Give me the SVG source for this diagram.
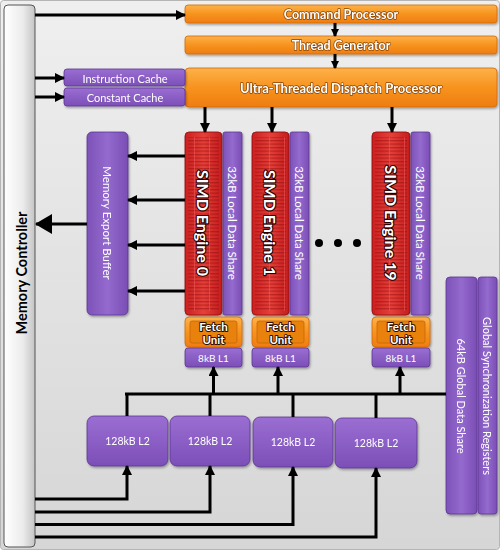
<svg xmlns="http://www.w3.org/2000/svg" width="500" height="550" viewBox="0 0 500 550">
<defs>
<linearGradient id="bg" x1="0" y1="0" x2="0" y2="1"><stop offset="0" stop-color="#efefef"/><stop offset="1" stop-color="#d6d6d6"/></linearGradient>
<linearGradient id="mc" x1="0" y1="0" x2="1" y2="0"><stop offset="0" stop-color="#ffffff"/><stop offset="0.6" stop-color="#ececec"/><stop offset="1" stop-color="#c4c4c4"/></linearGradient>
<linearGradient id="or" x1="0" y1="0" x2="0" y2="1"><stop offset="0" stop-color="#fdb24a"/><stop offset="0.5" stop-color="#f7931e"/><stop offset="1" stop-color="#ef7d10"/></linearGradient>
<linearGradient id="pu" x1="0" y1="0" x2="0" y2="1"><stop offset="0" stop-color="#9a6ed2"/><stop offset="1" stop-color="#7c4fb8"/></linearGradient>
<linearGradient id="puh" x1="0" y1="0" x2="1" y2="0"><stop offset="0" stop-color="#7d52b8"/><stop offset="0.5" stop-color="#946ace"/><stop offset="1" stop-color="#7a4db4"/></linearGradient>
<linearGradient id="rd" x1="0" y1="0" x2="1" y2="0"><stop offset="0" stop-color="#cc2020"/><stop offset="0.5" stop-color="#e6403a"/><stop offset="1" stop-color="#c41c1c"/></linearGradient>
<pattern id="stripe" patternUnits="userSpaceOnUse" width="15" height="3.5"><rect x="0" y="0" width="15" height="1.3" fill="#8a0c0c" opacity="0.45"/><rect x="14" y="0" width="1" height="3.5" fill="#f06060" opacity="0.5"/></pattern>
<filter id="sh" x="-10%" y="-10%" width="130%" height="130%"><feDropShadow dx="1" dy="1.5" stdDeviation="1" flood-color="#000" flood-opacity="0.35"/></filter>
<marker id="ah" markerUnits="userSpaceOnUse" markerWidth="12" markerHeight="12" refX="9" refY="5" orient="auto"><path d="M0,0 L10,5 L0,10 Z" fill="#000"/></marker>
<marker id="ahs" markerUnits="userSpaceOnUse" markerWidth="10" markerHeight="10" refX="7" refY="4" orient="auto"><path d="M0,0 L8,4 L0,8 Z" fill="#000"/></marker>
<marker id="big" markerUnits="userSpaceOnUse" markerWidth="20" markerHeight="22" refX="16" refY="10" orient="auto"><path d="M0,0 L17,10 L0,20 Z" fill="#000"/></marker>
</defs>
<style>
.t{font-family:Lato,"Open Sans","Liberation Sans",sans-serif;fill:#fff;text-anchor:middle;dominant-baseline:central}
.b{font-weight:bold}
.o{stroke:#2a0000;stroke-width:2.2;paint-order:stroke;stroke-linejoin:round}
.ob{stroke:#8a4200;stroke-width:1.4;paint-order:stroke;stroke-linejoin:round}
.of{stroke:#301000;stroke-width:2;paint-order:stroke;stroke-linejoin:round}
.or{fill:url(#or);stroke:#d06a10;stroke-width:0.8}
.pu{fill:url(#pu);stroke:#5c3590;stroke-width:0.8}
.puv{fill:url(#puh);stroke:#5c3590;stroke-width:0.8}
.rd{fill:url(#rd);stroke:#8c1010;stroke-width:0.8}
.ln{fill:none;stroke:#000;stroke-width:3}
</style>
<rect x="0.5" y="0.5" width="499" height="549" rx="3" fill="url(#bg)" stroke="#b5b5b5"/>

<g id="memory-controller">
<rect x="4" y="5" width="31" height="542" rx="4" fill="url(#mc)" stroke="#555" stroke-width="1"/>
<text class="t b" x="0" y="0" transform="translate(21,273) rotate(-90)" font-size="14.5" style="fill:#000">Memory Controller</text>
</g>
<g id="command-processor" filter="url(#sh)">
<rect class="or" x="185" y="5" width="312" height="18" rx="3"/>
<text class="t b ob" x="341" y="14.5" font-size="12.5">Command Processor</text>
</g>
<g id="thread-generator" filter="url(#sh)">
<rect class="or" x="185" y="36" width="312" height="18" rx="3"/>
<text class="t b ob" x="341" y="45.5" font-size="12.5">Thread Generator</text>
</g>
<g id="dispatch-processor" filter="url(#sh)">
<rect class="or" x="185" y="68" width="312" height="39" rx="4"/>
<text class="t b ob" x="341" y="88" font-size="13">Ultra-Threaded Dispatch Processor</text>
</g>
<g id="instruction-cache" filter="url(#sh)">
<rect class="pu" x="64" y="69" width="121" height="17" rx="3"/>
<text class="t" x="125" y="78" font-size="11">Instruction Cache</text>
</g>
<g id="constant-cache" filter="url(#sh)">
<rect class="pu" x="64" y="88" width="121" height="18" rx="3"/>
<text class="t" x="125" y="97.5" font-size="11">Constant Cache</text>
</g>
<g id="memory-export-buffer" filter="url(#sh)">
<rect class="puv" x="87" y="132" width="41" height="183" rx="5"/>
<text class="t" x="0" y="0" transform="translate(107,223) rotate(90)" font-size="11.5">Memory Export Buffer</text>
</g>

<g id="simd0">
<g filter="url(#sh)">
<rect class="rd" x="185" y="132" width="37" height="183" rx="4"/>
<rect x="188" y="137" width="31" height="174" fill="url(#stripe)"/>
<rect class="puv" x="223" y="132" width="19" height="183" rx="2"/>
</g>
<text class="t b o" x="0" y="0" transform="translate(203.5,223) rotate(90)" font-size="16">SIMD Engine 0</text>
<text class="t" x="0" y="0" transform="translate(232.5,223) rotate(90)" font-size="11.5">32kB Local Data Share</text>
<g filter="url(#sh)">
<rect class="or" x="185" y="317" width="57" height="30" rx="4"/>
<rect x="190" y="321" width="47" height="22" rx="2" fill="#e8820f" stroke="#c8650a" stroke-width="0.8"/>
<rect class="pu" x="185" y="348" width="57" height="19" rx="3"/>
</g>
<text class="t b of" x="213.5" y="326" font-size="11.5">Fetch</text>
<text class="t b of" x="213.5" y="339" font-size="11.5">Unit</text>
<text class="t" x="213.5" y="357.5" font-size="10">8kB L1</text>
</g>

<g id="simd1">
<g filter="url(#sh)">
<rect class="rd" x="252" y="132" width="37" height="183" rx="4"/>
<rect x="255" y="137" width="31" height="174" fill="url(#stripe)"/>
<rect class="puv" x="290" y="132" width="19" height="183" rx="2"/>
</g>
<text class="t b o" x="0" y="0" transform="translate(270.5,223) rotate(90)" font-size="16">SIMD Engine 1</text>
<text class="t" x="0" y="0" transform="translate(299.5,223) rotate(90)" font-size="11.5">32kB Local Data Share</text>
<g filter="url(#sh)">
<rect class="or" x="252" y="317" width="57" height="30" rx="4"/>
<rect x="257" y="321" width="47" height="22" rx="2" fill="#e8820f" stroke="#c8650a" stroke-width="0.8"/>
<rect class="pu" x="252" y="348" width="57" height="19" rx="3"/>
</g>
<text class="t b of" x="280.5" y="326" font-size="11.5">Fetch</text>
<text class="t b of" x="280.5" y="339" font-size="11.5">Unit</text>
<text class="t" x="280.5" y="357.5" font-size="10">8kB L1</text>
</g>

<g id="ellipsis">
<circle cx="319" cy="243" r="4" fill="#000"/>
<circle cx="338" cy="243" r="4" fill="#000"/>
<circle cx="357" cy="243" r="4" fill="#000"/>
</g>

<g id="simd19">
<g filter="url(#sh)">
<rect class="rd" x="372" y="132" width="38" height="183" rx="4"/>
<rect x="375" y="137" width="32" height="174" fill="url(#stripe)"/>
<rect class="puv" x="411" y="132" width="19" height="183" rx="2"/>
</g>
<text class="t b o" x="0" y="0" transform="translate(391,223) rotate(90)" font-size="16">SIMD Engine 19</text>
<text class="t" x="0" y="0" transform="translate(420.5,223) rotate(90)" font-size="11.5">32kB Local Data Share</text>
<g filter="url(#sh)">
<rect class="or" x="372" y="317" width="58" height="30" rx="4"/>
<rect x="377" y="321" width="48" height="22" rx="2" fill="#e8820f" stroke="#c8650a" stroke-width="0.8"/>
<rect class="pu" x="372" y="348" width="58" height="19" rx="3"/>
</g>
<text class="t b of" x="401" y="326" font-size="11.5">Fetch</text>
<text class="t b of" x="401" y="339" font-size="11.5">Unit</text>
<text class="t" x="401" y="357.5" font-size="10">8kB L1</text>
</g>

<g id="global-data-share" filter="url(#sh)">
<rect class="puv" x="446" y="277" width="31" height="237" rx="4"/>
<text class="t" x="0" y="0" transform="translate(461.5,396) rotate(90)" font-size="11">64kB Global Data Share</text>
</g>
<g id="global-sync-registers" filter="url(#sh)">
<rect class="puv" x="478" y="277" width="19" height="237" rx="3"/>
<text class="t" x="0" y="0" transform="translate(487.5,396) rotate(90)" font-size="11">Global Synchronization Registers</text>
</g>

<g id="l2-1" filter="url(#sh)"><rect class="pu" x="87" y="416" width="81" height="50" rx="7"/><text class="t" x="127.5" y="441" font-size="10.5">128kB L2</text></g>
<g id="l2-2" filter="url(#sh)"><rect class="pu" x="170" y="416" width="80" height="50" rx="7"/><text class="t" x="210" y="441" font-size="10.5">128kB L2</text></g>
<g id="l2-3" filter="url(#sh)"><rect class="pu" x="253" y="417" width="80" height="50" rx="7"/><text class="t" x="293" y="442" font-size="10.5">128kB L2</text></g>
<g id="l2-4" filter="url(#sh)"><rect class="pu" x="335" y="418" width="82" height="50" rx="7"/><text class="t" x="376" y="443" font-size="10.5">128kB L2</text></g>

<g id="connectors">
<line class="ln" x1="35" y1="15" x2="185" y2="15" marker-end="url(#ah)"/>
<line class="ln" x1="335" y1="23" x2="335" y2="36" stroke-width="2" marker-end="url(#ahs)"/>
<line class="ln" x1="335" y1="54" x2="335" y2="68" stroke-width="2" marker-end="url(#ahs)"/>
<line class="ln" x1="35" y1="78" x2="64" y2="78" marker-end="url(#ah)"/>
<line class="ln" x1="35" y1="97" x2="64" y2="97" marker-end="url(#ah)"/>
<line class="ln" x1="205" y1="107" x2="205" y2="132" marker-end="url(#ah)"/>
<line class="ln" x1="272" y1="107" x2="272" y2="132" marker-end="url(#ah)"/>
<line class="ln" x1="392" y1="107" x2="392" y2="132" marker-end="url(#ah)"/>
<line class="ln" x1="185" y1="156" x2="128" y2="156" marker-end="url(#ah)"/>
<line class="ln" x1="185" y1="200" x2="128" y2="200" marker-end="url(#ah)"/>
<line class="ln" x1="185" y1="245" x2="128" y2="245" marker-end="url(#ah)"/>
<line class="ln" x1="185" y1="291" x2="128" y2="291" marker-end="url(#ah)"/>
<line class="ln" x1="87" y1="224" x2="36" y2="224" stroke-width="6" marker-end="url(#big)"/>
<line class="ln" x1="125" y1="394" x2="446" y2="394" stroke-width="5"/>
<line class="ln" x1="213.5" y1="394" x2="213.5" y2="367" marker-end="url(#ah)"/>
<line class="ln" x1="278" y1="394" x2="278" y2="367" marker-end="url(#ah)"/>
<line class="ln" x1="400" y1="394" x2="400" y2="367" marker-end="url(#ah)"/>
<line class="ln" x1="127" y1="416" x2="127" y2="393"/>
<line class="ln" x1="210" y1="416" x2="210" y2="393"/>
<line class="ln" x1="293" y1="417" x2="293" y2="393"/>
<line class="ln" x1="376" y1="418" x2="376" y2="393"/>
<path class="ln" d="M35,499 H127 V466" marker-end="url(#ah)"/>
<path class="ln" d="M35,512 H210 V466" marker-end="url(#ah)"/>
<path class="ln" d="M35,524.5 H293 V467" marker-end="url(#ah)"/>
<path class="ln" d="M35,537 H376 V468" marker-end="url(#ah)"/>
</g>
</svg>
